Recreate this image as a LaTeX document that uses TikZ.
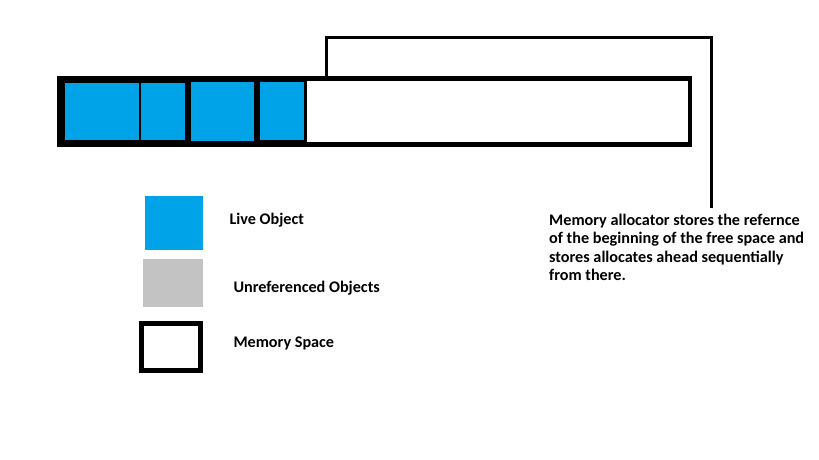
\documentclass[tikz,border=0pt]{standalone}
\usepackage{fontspec}
\setmainfont{Carlito}
\definecolor{liveblue}{RGB}{0,162,232}
\definecolor{unrefgray}{RGB}{195,195,195}
\begin{document}
\begin{tikzpicture}[x=1pt,y=-1pt,
  blk/.style={rectangle,inner sep=0pt,outer sep=0pt,anchor=north west},
  lbl/.style={inner sep=0pt,anchor=base west,font=\fontsize{16.2}{18.4}\selectfont\bfseries},
  bracket/.style={draw=black,line width=3pt}]
\useasboundingbox (0,0) rectangle (819,460);
% memory bar
\node[blk,fill=black,minimum width=635pt,minimum height=71pt] (mem) at (57,76) {};
\node[blk,fill=white,minimum width=381.3pt,minimum height=61.6pt] (free) at (306.7,80.7) {};
\node[blk,fill=liveblue,minimum width=74pt,minimum height=57.3pt] (o1) at (65,82.7) {};
\node[blk,fill=liveblue,minimum width=44pt,minimum height=57.3pt] (o2) at (141,82.7) {};
\node[blk,fill=liveblue,minimum width=63pt,minimum height=59.3pt] (o3) at (191,81.7) {};
\node[blk,fill=liveblue,minimum width=44.3pt,minimum height=58.3pt] (o4) at (259.7,81.7) {};
% description
\node[lbl,align=left] (desc) at (549,280.5) {Memory allocator stores the refernce\\of the beginning of the free space and\\stores allocates ahead sequentially\\from there.};
\coordinate (bstart) at (326.8,76);
\coordinate (bend) at (711.5,208);
\draw[bracket] (bstart) -- (326.8,37.5) -- (711.5,37.5) -- (bend);
% legend
\node[blk,fill=liveblue,minimum width=57.7pt,minimum height=53.7pt] (lglive) at (145,196) {};
\node[blk,fill=unrefgray,minimum width=60pt,minimum height=47.7pt] (lgunref) at (142.7,259) {};
\node[blk,draw=black,line width=5pt,minimum width=58.7pt,minimum height=46.7pt,outer sep=0pt] (lgmem) at (141.5,323.5) {};
\node[lbl] (tlive) at (229.3,224.3) {Live Object};
\node[lbl] (tunref) at (233.3,292.3) {Unreferenced Objects};
\node[lbl] (tmem) at (233.3,347.3) {Memory Space};
\end{tikzpicture}
\end{document}
